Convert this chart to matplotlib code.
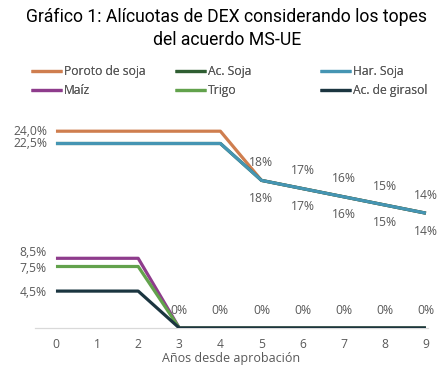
import numpy as np
import matplotlib.pyplot as plt

plt.rcParams["font.family"] = ["Open Sans", "DejaVu Sans"]

# datos
anios = [0, 1, 2, 3, 4, 5, 6, 7, 8, 9]
poroto_soja = [24.0, 24.0, 24.0, 24.0, 24.0, 18, 17, 16, 15, 14]
ac_soja = [22.5, 22.5, 22.5, 22.5, 22.5, 18, 17, 16, 15, 14]
har_soja = [22.5, 22.5, 22.5, 22.5, 22.5, 18, 17, 16, 15, 14]
maiz = [8.5, 8.5, 8.5, 0, 0, 0, 0, 0, 0, 0]
trigo = [7.5, 7.5, 7.5, 0, 0, 0, 0, 0, 0, 0]
ac_girasol = [4.5, 4.5, 4.5, 0, 0, 0, 0, 0, 0, 0]

series = [
    ("Poroto de soja", poroto_soja, "#CF7E4F"),
    ("Ac. Soja", ac_soja, "#2F5E32"),
    ("Har. Soja", har_soja, "#4595B3"),
    ("Maíz", maiz, "#8E3C8C"),
    ("Trigo", trigo, "#62A24C"),
    ("Ac. de girasol", ac_girasol, "#1B3540"),
]

gris = "#595959"
fs = 8.7

fig = plt.figure(figsize=(4.43, 3.72), dpi=100)
ax = fig.add_axes([35 / 443, 0.1183, 393 / 443, 0.5731])

lineas = []
for nombre, vals, col in series:
    l, = ax.plot(anios, vals, color=col, lw=2.3, label=nombre, solid_capstyle="butt")
    lineas.append(l)

# etiquetas iniciales a la izquierda
iniciales = [(poroto_soja, 0), (har_soja, 0), (maiz, 6), (trigo, -2), (ac_girasol, -1)]
for vals, dy in iniciales:
    ax.annotate(f"{vals[0]:.1f}%".replace(".", ","), (anios[0], vals[0]),
                xytext=(-9, dy), textcoords="offset pixels",
                ha="right", va="center", fontsize=fs, color=gris)

# etiquetas de los años con tope
for i in range(5, 10):
    ax.annotate(f"{poroto_soja[i]:.0f}%", (anios[i], poroto_soja[i]),
                xytext=(0, 18), textcoords="offset pixels",
                ha="center", va="center", fontsize=fs, color=gris)
    ax.annotate(f"{har_soja[i]:.0f}%", (anios[i], har_soja[i]),
                xytext=(0, -18), textcoords="offset pixels",
                ha="center", va="center", fontsize=fs, color=gris)
for i in range(3, 10):
    ax.annotate(f"{ac_girasol[i]:.0f}%", (anios[i], ac_girasol[i]),
                xytext=(0, 17), textcoords="offset pixels",
                ha="center", va="center", fontsize=fs, color=gris)

ax.set_xlim(-0.51, 9.05)
ax.set_ylim(0, 26)
ax.set_xticks(anios)
ax.set_yticks([])
ax.tick_params(axis="x", length=0, pad=7, labelsize=fs, labelcolor=gris)
for s in ["top", "right", "left"]:
    ax.spines[s].set_visible(False)
ax.spines["bottom"].set_color("#D9D9D9")
ax.spines["bottom"].set_linewidth(0.9)
ax.spines["bottom"].set_zorder(0)
ax.set_xlabel("Años desde aprobación", fontsize=9, color=gris, labelpad=1)

titulo = ["Gráfico 1: Alícuotas de DEX considerando los topes", "del acuerdo MS-UE"]
for txt, yp in zip(titulo, [17, 40]):
    fig.text(0.512, 1 - yp / 372, txt, ha="center", va="center", fontsize=12.7,
             color="black", family=["Roboto", "DejaVu Sans"])

# leyenda en tres columnas de ancho fijo
for k, x0 in enumerate([31, 175, 320]):
    leg = fig.legend(handles=[lineas[k], lineas[k + 3]], loc="upper left",
                     bbox_to_anchor=(x0 / 443, 1 - 65 / 372), frameon=False,
                     fontsize=fs, labelcolor=gris, handlelength=2.6,
                     handletextpad=0.15, labelspacing=0.5, borderpad=0,
                     borderaxespad=0)
    fig.add_artist(leg)

fig.savefig("out.png", dpi=100)
